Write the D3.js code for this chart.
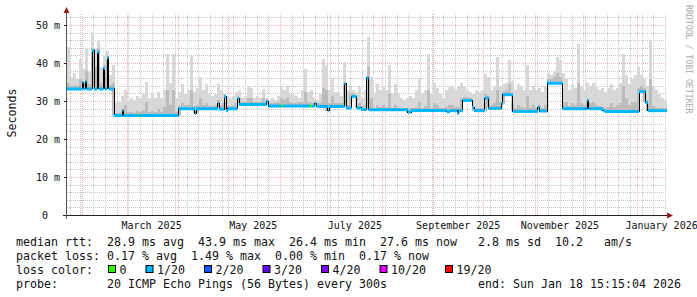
<!DOCTYPE html>
<html><head><meta charset="utf-8">
<script src="https://cdn.jsdelivr.net/npm/d3@7"></script>
<style>
html,body{margin:0;padding:0;background:#fff;}
svg{display:block;}
text{font-family:"DejaVu Sans Mono",monospace;white-space:pre;}
</style></head><body>
<svg id="chart" width="697" height="297"></svg>
<script>
// ---------------- data ----------------
const periodStart = "2025-01-24T06";
const periodEnd = "2026-01-19T06";
const yTicks = [0, 10, 20, 30, 40, 50];
const yUnit = "m";
const yTitle = "Seconds";
const watermark = "RRDTOOL / TOBI OETIKER";

// median RTT (ms): value holds from each date until the next one
const medianDates = ["2025-01-24T06","2025-02-02T13","2025-02-03T04","2025-02-04T08","2025-02-04T23","2025-02-08T06","2025-02-09T11","2025-02-11T06","2025-02-12T04","2025-02-15T04","2025-02-16T01","2025-02-17T06","2025-02-18T04","2025-02-21T11","2025-02-26T13","2025-02-27T04","2025-04-01T04","2025-04-11T01","2025-04-11T16","2025-04-24T20","2025-04-25T11","2025-04-28T11","2025-04-29T16","2025-04-30T20","2025-05-06T13","2025-05-07T11","2025-05-23T23","2025-05-25T04","2025-06-22T01","2025-06-22T23","2025-06-29T20","2025-06-30T11","2025-07-09T18","2025-07-10T16","2025-07-13T23","2025-07-16T23","2025-07-19T16","2025-07-22T23","2025-07-24T04","2025-08-16T20","2025-08-18T16","2025-09-08T23","2025-09-11T01","2025-09-15T06","2025-09-16T04","2025-09-18T20","2025-09-24T06","2025-09-25T11","2025-10-02T01","2025-10-04T04","2025-10-11T23","2025-10-12T20","2025-10-18T20","2025-11-02T20","2025-11-03T18","2025-11-08T06","2025-11-08T20","2025-11-17T13","2025-12-02T06","2025-12-03T04","2025-12-11T20","2025-12-13T01","2026-01-02T11","2026-01-06T08","2026-01-07T20"];
const medianValues = [33.3,35.0,33.3,35.2,33.3,43.4,33.3,43.0,33.3,38.7,33.3,41.5,33.3,26.3,27.6,26.3,28.1,26.9,28.1,29.5,28.0,31.3,27.6,28.1,30.9,29.2,30.1,28.8,29.6,28.7,27.6,28.7,34.7,28.3,31.3,28.3,27.9,36.2,27.8,27.2,27.6,27.3,27.6,26.9,27.6,30.3,28.5,27.6,30.9,28.2,29.4,31.8,27.4,28.5,27.5,35.1,34.8,28.1,30.3,28.1,27.6,27.4,32.6,29.8,27.6];

// packet loss class (index into lossLabels) from each date on
const lossDates = ["2025-01-24T06","2025-03-07T12","2025-03-08T03","2025-06-02T03","2025-06-03T01","2025-06-19T01","2025-06-20T11"];
const lossLevels = [1,0,1,0,1,0,1];
const lossLabels = ["0","1/20","2/20","3/20","4/20","10/20","19/20"];
const lossColors = ["#26ff00","#00b8ff","#0059ff","#5e00ff","#7e00ff","#dd00ff","#ff0000"];

// smoke: consecutive 43.2 h buckets starting at periodStart (ms)
const smokeStepHours = 43.2;
const smokeMax = [44.3,36.5,37.5,36,41.2,38.6,43.9,38,48.2,44,46,39,42,43.4,37,39.5,
29.5,30,31.5,32.9,30.5,31,30.5,31.4,30.8,32,35.1,31,32,31,32.5,31,33,42.5,35,42.5,31,
32.5,34.5,32,33,42,32.5,33.5,36.4,33,34.6,32,31.5,32,34.6,33,32,31.5,
31,31.5,32.5,33,31,31.5,34.2,33.5,31,31.5,31,33.3,31,30.5,31,30.5,31.5,33.8,33,34.2,32,31.6,31.5,31,33,38.6,32.5,33,31,30.5,32,41.2,39.5,33,36,32.5,32.5,31.5,40.4,33,33.8,33,32.5,33.8,31,33,46.9,
36.4,32,34.6,33,34,33,39.5,
32,34.5,32,31,30.5,31,31.5,31,33,36,32,33,
42.5,32,35,33.5,32,31,33,33.8,34,33,
34,35,34,33,32.5,32,33,32.5,33,37.3,
36.5,33,34,41.7,34,34.6,35,40.8,35.5,33,
34.5,34,33,39.5,33,34,33,33.5,32.5,34,
37.5,37,38,41.7,40.8,37.5,36,33,34.5,33.5,
45.2,34,33,35,34,35,34,33,33.5,32.5,
33.5,34.5,33,33.5,35,42.5,37,34.5,36,37,
39,37,36,34,46,34,33,32,31,30.5];
const smokeMid = [35,34,34.3,34,36,35,38,34.5,44,39,44,35,39.5,41,34.3,35,
27,27,27.5,29,27.2,27.3,27,27.5,27.2,27.8,30,27.2,27.5,27.2,28,27.2,28.5,33,29,33,27.2,
28.8,29.5,29,29,33,28.9,29,31,29,29.5,28.9,28.8,29,30.5,29,29.5,28.8,
28.8,29,29.5,31,30,30,31,31,30,30,30,31,30,29.6,29.7,29.5,29.8,31,30.5,31,29.8,29.6,29.6,29.8,30,32.5,29.8,29.8,29.5,29.5,29.5,33.5,33,29.5,31.5,29.5,29.5,29.5,34.5,29.2,32.2,32.2,29.2,29.5,28.8,29,39,
31,28.4,29,28.5,29,28.5,32,
28.3,29,28.3,28.2,28,28.3,28.3,28.3,28.6,30,28.4,28.8,
33,28.4,29.5,29,28.4,28.2,28.6,29,29,28.6,
28.5,31,31.2,31.3,30.8,28.5,28.4,28.3,28.4,32,
31.5,29,29.5,33,30,32.6,33,34.5,30,28.3,
29,28.5,28.4,31.5,28.4,29,28.4,29,28.4,29,
36,35.8,36.5,37.5,36.5,30,30,28.8,29.5,29,
35,29.5,29,30.5,29.5,30,29,28.8,28.5,28.3,
28.5,29.5,28.5,29,29.5,34,31,29,30,30,
33.5,34,33.5,29.5,36,28.8,28.4,28.2,28.2,28.2];

const legendRtt = "median rtt:  28.9 ms avg  43.9 ms max  26.4 ms min  27.6 ms now   2.8 ms sd  10.2   am/s";
const legendLoss = "packet loss: 0.17 % avg  1.49 % max  0.00 % min  0.17 % now";
const legendColorTitle = "loss color:";
const legendProbe = "probe:       20 ICMP Echo Pings (56 Bytes) every 300s";
const legendEnd = "end: Sun Jan 18 15:15:04 2026";

// ---------------- drawing ----------------
const P = d3.utcParse("%Y-%m-%dT%H");
const t0 = P(periodStart), t1 = P(periodEnd);
const svg = d3.select("#chart");
const x = d3.scaleUtc().domain([t0, t1]).range([67, 667]);
const y = d3.scaleLinear().domain([0, 50]).range([215.5, 25.5]);
const plotTop = 14, plotBottom = 215, plotLeft = 67, plotRight = 667;
const px = v => Math.round(v) + 0.5;
const gy = v => Math.round(y(v) - 0.5) + 0.5;

const medPts = medianDates.map((d, i) => ({t: P(d), v: medianValues[i]}));
const lossPts = lossDates.map((d, i) => ({t: P(d), l: lossLevels[i]}));
const medianAt = t => { let v = medPts[0].v; for (const p of medPts) { if (p.t <= t) v = p.v; else break; } return v; };
const lossAt = t => { let l = lossPts[0].l; for (const p of lossPts) { if (p.t <= t) l = p.l; else break; } return l; };

// grid
const grid = svg.append("g").attr("shape-rendering", "crispEdges");
const minorY = d3.range(2, 53, 2).filter(v => v % 10 !== 0);
const majorY = yTicks.filter(v => v > 0);
const minorCol = "#c6c6c6", majorCol = "#f0b4b4";
grid.selectAll(".hmin").data(minorY).join("line")
  .attr("x1", plotLeft).attr("x2", plotRight).attr("y1", gy).attr("y2", gy)
  .attr("stroke", minorCol).attr("stroke-dasharray", "1,1");
const weeks = d3.utcSunday.range(t0, t1);
grid.selectAll(".vmin").data(weeks).join("line")
  .attr("x1", d => px(x(d))).attr("x2", d => px(x(d))).attr("y1", plotTop).attr("y2", plotBottom)
  .attr("stroke", minorCol).attr("stroke-dasharray", "1,1");
const months = d3.utcMonth.range(t0, t1);
grid.selectAll(".vmaj").data(months).join("line")
  .attr("x1", d => px(x(d))).attr("x2", d => px(x(d))).attr("y1", plotTop).attr("y2", plotBottom)
  .attr("stroke", majorCol).attr("stroke-dasharray", "1,1");
grid.selectAll(".hmaj").data(majorY).join("line")
  .attr("x1", plotLeft).attr("x2", plotRight).attr("y1", gy).attr("y2", gy)
  .attr("stroke", majorCol).attr("stroke-dasharray", "1,1");

// smoke
const stepMs = smokeStepHours * 3600e3;
const bins = smokeMax.map((m, i) => {
  const a = new Date(+t0 + i * stepMs), b = new Date(+t0 + (i + 1) * stepMs);
  let lo = medianAt(a);
  for (const p of medPts) if (p.t > a && p.t < b) lo = Math.min(lo, p.v);
  return {a, b, max: m, mid: smokeMid[i], lo};
});
const smoke = svg.append("g").attr("shape-rendering", "crispEdges");
smoke.selectAll(".s1").data(bins).join("rect")
  .attr("x", d => x(d.a)).attr("width", d => x(d.b) - x(d.a))
  .attr("y", d => y(d.max)).attr("height", d => Math.max(0, y(d.lo) - y(d.max)))
  .attr("fill", "#d8d8d8");
smoke.selectAll(".s2").data(bins).join("rect")
  .attr("x", d => x(d.a)).attr("width", d => x(d.b) - x(d.a))
  .attr("y", d => y(d.mid)).attr("height", d => Math.max(0, y(d.lo) - y(d.mid)))
  .attr("fill", "#bcbcbc");

// median black step line
const stepPts = medPts.concat([{t: t1, v: medPts[medPts.length - 1].v}]);
svg.append("path").datum(stepPts)
  .attr("d", d3.line().x(d => x(d.t)).y(d => y(d.v)).curve(d3.curveStepAfter))
  .attr("fill", "none").attr("stroke", "#000").attr("stroke-width", 1).attr("shape-rendering", "crispEdges");

// colored median segments by loss
const cuts = Array.from(new Set(medPts.map(p => +p.t).concat(lossPts.map(p => +p.t)).concat([+t1]))).sort((a, b) => a - b);
const segs = [];
for (let i = 0; i < cuts.length - 1; i++) {
  const a = new Date(cuts[i]), b = new Date(cuts[i + 1]);
  segs.push({a, b, v: medianAt(a), l: lossAt(a)});
}
svg.append("g").selectAll("line").data(segs).join("line")
  .attr("x1", d => x(d.a)).attr("x2", d => x(d.b)).attr("y1", d => y(d.v)).attr("y2", d => y(d.v))
  .attr("stroke", d => lossColors[d.l]).attr("stroke-width", 3);

// axes
const axisColor = "#222";
svg.append("line").attr("x1", 63).attr("x2", plotRight).attr("y1", 215.5).attr("y2", 215.5).attr("stroke", axisColor);
svg.append("line").attr("x1", 66.5).attr("x2", 66.5).attr("y1", 219).attr("y2", 12).attr("stroke", "#555");
svg.append("polygon").attr("points", "667,212.5 673,215.5 667,218.5").attr("fill", "#9b1b1b");
svg.append("polygon").attr("points", "63.5,13 66.5,7 69.5,13").attr("fill", "#9b1b1b");
svg.append("g").selectAll("line").data(majorY).join("line")
  .attr("x1", 64).attr("x2", 66.5).attr("y1", gy).attr("y2", gy).attr("stroke", axisColor);

// y labels
svg.append("g").selectAll("text").data(yTicks).join("text")
  .attr("x", 60).attr("y", d => y(d) + 3.5).attr("text-anchor", "end")
  .attr("font-size", "10px").attr("fill", "#111")
  .text(d => d === 0 ? "0  " : d + " " + yUnit);

// x labels
const labelMonths = d3.utcMonth.every(2).range(t0, t1);
svg.append("g").selectAll("text").data(labelMonths).join("text")
  .attr("x", d => x(d3.utcDay.offset(d, 15))).attr("y", 228.5).attr("text-anchor", "middle")
  .attr("font-size", "10px").attr("fill", "#111")
  .text(d => d3.utcFormat("%B %Y")(d));

// y title
svg.append("text").attr("transform", "translate(15.5,113) rotate(-90)")
  .attr("text-anchor", "middle").attr("font-size", "11.63px").attr("fill", "#111").text(yTitle);

// watermark
svg.append("text").attr("transform", "translate(685.5,5) rotate(90)")
  .attr("font-size", "8.2px").attr("fill", "#aaaaaa").text(watermark);

// legend
const fs = "11.63px", cw = 7;
const leg = svg.append("g").attr("font-size", fs).attr("fill", "#111");
leg.append("text").attr("x", 16).attr("y", 245.5).text(legendRtt);
leg.append("text").attr("x", 16).attr("y", 259.5).text(legendLoss);
leg.append("text").attr("x", 16).attr("y", 273.5).text(legendColorTitle);
leg.append("text").attr("x", 16).attr("y", 287.5).text(legendProbe);
leg.append("text").attr("x", 16 + 66 * cw).attr("y", 287.5).text(legendEnd);
let bx = 108;
lossLabels.forEach((lab, i) => {
  leg.append("rect").attr("x", bx + 0.5).attr("y", 265.5).attr("width", 7).attr("height", 7)
    .attr("fill", lossColors[i]).attr("stroke", "#000").attr("stroke-width", 1);
  const lx = bx + 11.5;
  leg.append("text").attr("x", lx).attr("y", 273.5).text(lab);
  bx = lx + lab.length * cw + 19;
});
</script>
</body></html>
